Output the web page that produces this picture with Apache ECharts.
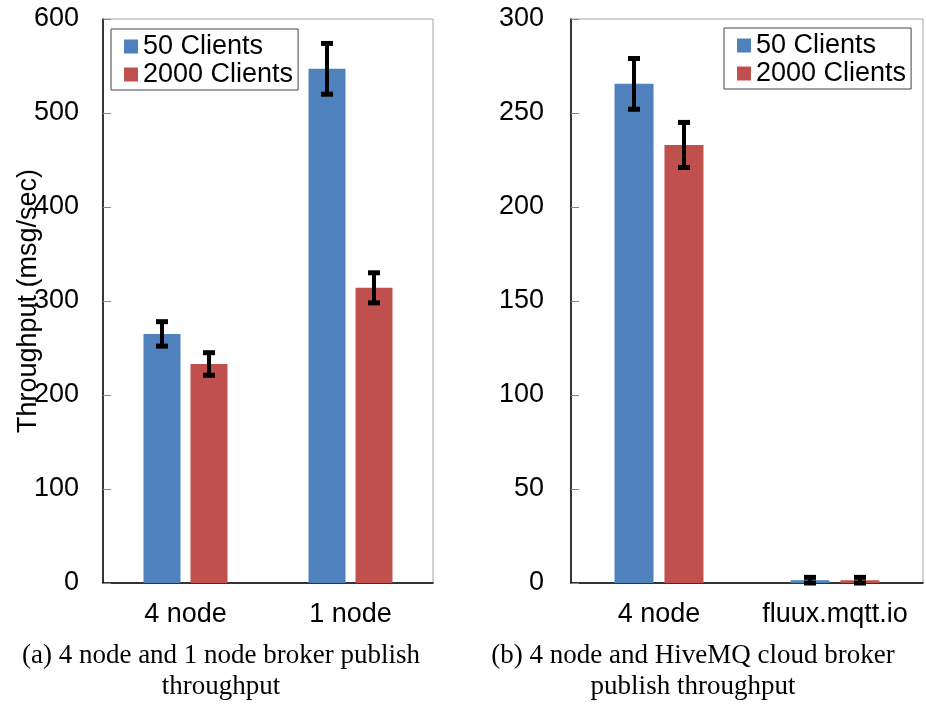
<!DOCTYPE html>
<html lang="en">
<head>
<meta charset="UTF-8">
<title>publish throughput</title>
<script src="https://cdn.jsdelivr.net/npm/echarts@6/dist/echarts.min.js"></script>
<style>
  html, body { margin: 0; padding: 0; background: #fff; }
  #chart { width: 926px; height: 706px; }
</style>
</head>
<body>
<div id="chart"></div>
<script>
// (a) 4 node vs 1 node
var categoriesA = ['4 node', '1 node'];
var clients50A = [265, 547];
var err50A = [13, 27];
var clients2000A = [233, 314];
var err2000A = [12, 16];
var ticksA = [0, 100, 200, 300, 400, 500, 600];

// (b) 4 node vs HiveMQ cloud
var categoriesB = ['4 node', 'fluux.mqtt.io'];
var clients50B = [265.5, 1.5];
var err50B = [13.5, 1.5];
var clients2000B = [233, 1.5];
var err2000B = [12, 1.5];
var ticksB = [0, 50, 100, 150, 200, 250, 300];

var BLUE = '#4F81BD', RED = '#C0504D';
var FONT = 'Liberation Sans, Arial, sans-serif';
var SERIF = 'Liberation Serif, Times New Roman, serif';

var myChart = echarts.init(document.getElementById('chart'));

function errData(vals, errs) {
    return vals.map(function (v, i) { return [i, v, errs[i]]; });
}

// error bar drawn at the bar's centre (shiftPx from category centre)
function makeErrRender(shiftPx) {
    return function (params, api) {
        var mid = api.coord([api.value(0), api.value(1)]);
        var hi = api.coord([api.value(0), api.value(1) + api.value(2)]);
        var lo = api.coord([api.value(0), api.value(1) - api.value(2)]);
        var x = mid[0] + shiftPx;
        var capHalf = 6;
        return {
            type: 'group',
            children: [
                { type: 'line', shape: { x1: x, y1: hi[1], x2: x, y2: lo[1] }, style: { stroke: '#000', lineWidth: 4 } },
                { type: 'line', shape: { x1: x - capHalf, y1: hi[1], x2: x + capHalf, y2: hi[1] }, style: { stroke: '#000', lineWidth: 5 } },
                { type: 'line', shape: { x1: x - capHalf, y1: lo[1], x2: x + capHalf, y2: lo[1] }, style: { stroke: '#000', lineWidth: 5 } }
            ]
        };
    };
}

function yAxisFor(gridIndex, ticks, margin, name) {
    return {
        gridIndex: gridIndex,
        type: 'value',
        min: ticks[0], max: ticks[ticks.length - 1], interval: ticks[1] - ticks[0],
        name: name || '',
        nameLocation: 'middle',
        nameGap: 61,
        nameMoveOverlap: false,
        nameTextStyle: { color: '#000', fontSize: 27, fontFamily: FONT },
        axisLine: { show: true, lineStyle: { color: '#000', width: 1.5 } },
        axisTick: { show: true, inside: true, length: 8, lineStyle: { color: '#888' } },
        axisLabel: { color: '#000', fontSize: 27, fontFamily: FONT, margin: margin },
        splitLine: { show: false }
    };
}

function xAxisFor(gridIndex, cats) {
    return {
        gridIndex: gridIndex,
        type: 'category',
        data: cats,
        axisLine: { show: true, lineStyle: { color: '#000', width: 1.5 } },
        axisTick: { show: false },
        axisLabel: { color: '#000', fontSize: 27, fontFamily: FONT, margin: 18, interval: 0 }
    };
}

function legendFor(left, top) {
    return {
        orient: 'vertical',
        left: left, top: top,
        data: ['50 Clients', '2000 Clients'],
        icon: 'rect',
        itemWidth: 14, itemHeight: 14,
        itemGap: 1,
        padding: [4, 5, 2, 13],
        borderColor: '#444', borderWidth: 1,
        backgroundColor: '#fff',
        textStyle: { color: '#000', fontSize: 27, fontFamily: FONT }
    };
}

var option = {
    animation: false,
    backgroundColor: '#fff',
    grid: [
        { left: 103, top: 19, width: 330, height: 564, show: true, borderColor: '#a6a6a6', borderWidth: 1 },
        { left: 571, top: 19, width: 352, height: 564, show: true, borderColor: '#a6a6a6', borderWidth: 1 }
    ],
    legend: [legendFor(111, 29), legendFor(724, 28)],
    xAxis: [xAxisFor(0, categoriesA), xAxisFor(1, categoriesB)],
    yAxis: [
        yAxisFor(0, ticksA, 24, 'Throughput (msg/sec)'),
        yAxisFor(1, ticksB, 27)
    ],
    graphic: [
        {
            type: 'text',
            style: {
                text: '(a) 4 node and 1 node broker publish\nthroughput',
                x: 221, y: 671,
                textAlign: 'center', textVerticalAlign: 'middle',
                fontFamily: SERIF, fontSize: 27, lineHeight: 31, fill: '#000'
            }
        },
        {
            type: 'text',
            style: {
                text: '(b) 4 node and HiveMQ cloud broker\npublish throughput',
                x: 693, y: 671,
                textAlign: 'center', textVerticalAlign: 'middle',
                fontFamily: SERIF, fontSize: 27, lineHeight: 31, fill: '#000'
            }
        }
    ],
    series: [
        { name: '50 Clients', type: 'bar', xAxisIndex: 0, yAxisIndex: 0, data: clients50A,
          barWidth: 37, barGap: '27%', itemStyle: { color: BLUE } },
        { name: '2000 Clients', type: 'bar', xAxisIndex: 0, yAxisIndex: 0, data: clients2000A,
          barWidth: 37, barGap: '27%', itemStyle: { color: RED } },
        { name: '50 Clients', type: 'bar', xAxisIndex: 1, yAxisIndex: 1, data: clients50B,
          barWidth: 39, barGap: '28%', itemStyle: { color: BLUE } },
        { name: '2000 Clients', type: 'bar', xAxisIndex: 1, yAxisIndex: 1, data: clients2000B,
          barWidth: 39, barGap: '28%', itemStyle: { color: RED } },
        { type: 'custom', xAxisIndex: 0, yAxisIndex: 0, renderItem: makeErrRender(-23.5),
          encode: { x: 0, y: 1 }, data: errData(clients50A, err50A), z: 5 },
        { type: 'custom', xAxisIndex: 0, yAxisIndex: 0, renderItem: makeErrRender(23.5),
          encode: { x: 0, y: 1 }, data: errData(clients2000A, err2000A), z: 5 },
        { type: 'custom', xAxisIndex: 1, yAxisIndex: 1, renderItem: makeErrRender(-25),
          encode: { x: 0, y: 1 }, data: errData(clients50B, err50B), z: 5 },
        { type: 'custom', xAxisIndex: 1, yAxisIndex: 1, renderItem: makeErrRender(25),
          encode: { x: 0, y: 1 }, data: errData(clients2000B, err2000B), z: 5 }
    ]
};

myChart.setOption(option);
</script>
</body>
</html>
